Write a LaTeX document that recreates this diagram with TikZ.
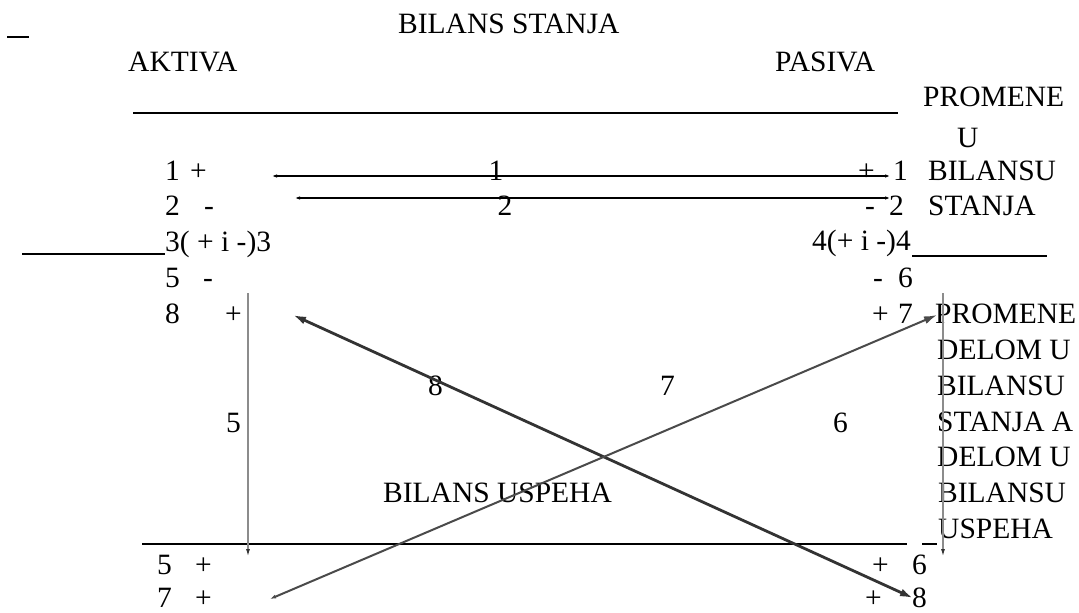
\documentclass[tikz,border=0pt]{standalone}
\usepackage{fontspec}
\setmainfont{Liberation Serif}
\usetikzlibrary{arrows.meta}
\definecolor{vgrey}{HTML}{8C8C8C}
\definecolor{dgrey}{HTML}{333333}
\definecolor{mgrey}{HTML}{4A4A4A}
\tikzset{
  txt/.style={anchor=base west,inner sep=0pt,font=\fontsize{29.5}{31}\selectfont},
  ctxt/.style={anchor=base,inner sep=0pt,font=\fontsize{29.5}{31}\selectfont},
  rulel/.style={line width=1.2pt,black},
  hline/.style={line width=1.3pt,black,{Latex[length=5pt,width=3.5pt]}-{Latex[length=5pt,width=3.5pt]}},
  vline/.style={line width=1.5pt,vgrey,-{Latex[length=8pt,width=4pt,color=dgrey]}},
  arreight/.style={line width=2.8pt,dgrey,{Latex[length=13pt,width=8pt]}-{Latex[length=13pt,width=8pt]}},
  arrseven/.style={line width=2pt,mgrey,{Latex[length=6pt,width=4pt]}-{Latex[length=13pt,width=8pt]}}
}
\begin{document}
\begin{tikzpicture}[x=1pt,y=-1pt]
\useasboundingbox (0,0) rectangle (1079,613);
% headings
\node[txt] (title) at (398,34) {BILANS STANJA};
\node[txt] (aktiva) at (128,71) {AKTIVA};
\node[txt] (pasiva) at (775,71) {PASIVA};
\node[txt] (prom1) at (923,106) {PROMENE};
\node[txt] (u1) at (957,147) {U};
% rules
\coordinate (ul1) at (7,37); \coordinate (ul2) at (29,37);
\draw[rulel] (ul1) -- (ul2);
\coordinate (tr1) at (133,113); \coordinate (tr2) at (898,113);
\draw[rulel] (tr1) -- (tr2);
\coordinate (lr1) at (22,254); \coordinate (lr2) at (165,254);
\draw[rulel] (lr1) -- (lr2);
\coordinate (rr1) at (912,256); \coordinate (rr2) at (1047,256);
\draw[rulel] (rr1) -- (rr2);
\coordinate (br1) at (142,544); \coordinate (br2) at (907,544);
\draw[rulel] (br1) -- (br2);
\coordinate (bd1) at (922,544); \coordinate (bd2) at (937,544);
\draw[rulel] (bd1) -- (bd2);
% left column
\node[txt] (l1n) at (165,180) {1};
\node[txt] (l1s) at (190,180) {+};
\node[txt] (l2n) at (165,215) {2};
\node[txt] (l2s) at (204,215) {-};
\node[txt] (l3) at (165,251) {3( + i -)3};
\node[txt] (l5n) at (165,287) {5};
\node[txt] (l5s) at (203,287) {-};
\node[txt] (l8n) at (165,323) {8};
\node[txt] (l8s) at (225,323) {+};
% right column
\node[txt] (r1s) at (858,180) {+};
\node[txt] (r1n) at (893,180) {1};
\node[txt] (r1t) at (928,180) {BILANSU};
\node[txt] (r2s) at (865,215) {-};
\node[txt] (r2n) at (889,215) {2};
\node[txt] (r2t) at (928,215) {STANJA};
\node[txt] (r4) at (812,250) {4(+ i -)4};
\node[txt] (r6s) at (873,287) {-};
\node[txt] (r6n) at (898,287) {6};
\node[txt] (r7s) at (872,323) {+};
\node[txt] (r7n) at (898,323) {7};
\node[txt] (p1) at (935,323) {PROMENE};
\node[txt] (p2) at (937,359) {DELOM U};
\node[txt] (p3) at (937,395) {BILANSU};
\node[txt] (p4) at (937,431) {STANJA A};
\node[txt] (p5) at (937,466) {DELOM U};
\node[txt] (p6) at (938,502) {BILANSU};
\node[txt] (p7) at (938,538) {USPEHA};
% middle labels
\node[ctxt] (lab1) at (496,180) {1};
\node[ctxt] (lab2) at (505,215) {2};
\node[txt] (lab5) at (226,432) {5};
\node[txt] (lab8) at (428,395) {8};
\node[txt] (lab7) at (660,395) {7};
\node[txt] (lab6) at (833,432) {6};
\node[txt] (bu) at (383,502) {BILANS USPEHA};
% bottom rows
\node[txt] (b5n) at (157,574) {5};
\node[txt] (b5s) at (195,574) {+};
\node[txt] (b7n) at (157,607) {7};
\node[txt] (b7s) at (195,607) {+};
\node[txt] (b6s) at (872,574) {+};
\node[txt] (b6n) at (912,574) {6};
\node[txt] (b8s) at (865,607) {+};
\node[txt] (b8n) at (912,607) {8};
% connectors
\coordinate (a1l) at (272,176); \coordinate (a1r) at (890,176);
\draw[hline] (a1l) -- (a1r);
\coordinate (a2l) at (295,198); \coordinate (a2r) at (890,198);
\draw[hline] (a2l) -- (a2r);
\coordinate (v5t) at (248,293); \coordinate (v5b) at (248,557);
\draw[vline] (v5t) -- (v5b);
\coordinate (v6t) at (943,293); \coordinate (v6b) at (943,557);
\draw[vline] (v6t) -- (v6b);
\coordinate (e8a) at (293,315); \coordinate (e8b) at (913,598);
\draw[arreight] (e8a) -- (e8b);
\coordinate (e7a) at (270,599); \coordinate (e7b) at (937,315);
\draw[arrseven] (e7a) -- (e7b);
\end{tikzpicture}
\end{document}
